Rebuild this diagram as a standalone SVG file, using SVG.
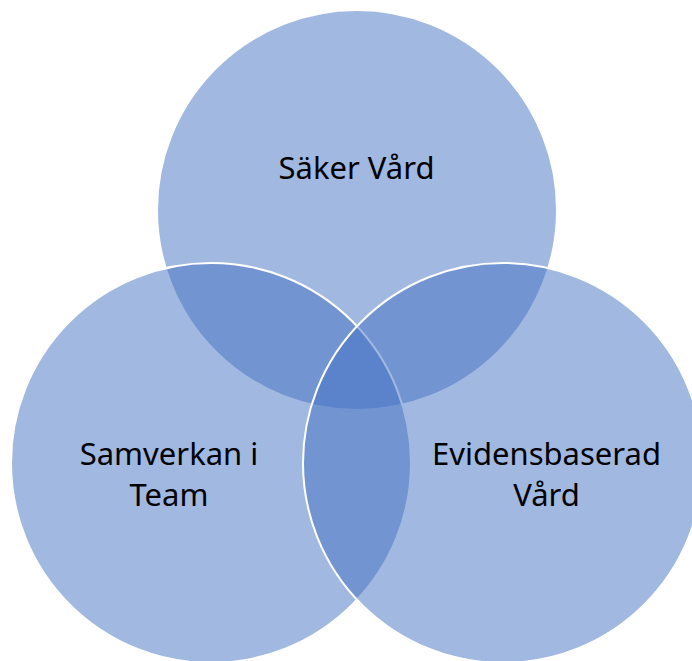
<svg xmlns="http://www.w3.org/2000/svg" width="692" height="661" viewBox="0 0 692 661">
<style>
.c{fill:#4472C4;fill-opacity:0.5;stroke:#FFFFFF;stroke-width:2}
.t{font-family:"Noto Sans","Open Sans",sans-serif;font-size:31px;fill:#000000;text-anchor:middle}
</style>
<rect width="692" height="661" fill="#FFFFFF"/>
<g id="node-saker">
<circle class="c" cx="357" cy="210" r="200"/>
</g>
<g id="node-samverkan">
<circle class="c" cx="211" cy="463" r="200"/>
</g>
<g id="node-evidens">
<circle class="c" cx="503" cy="463" r="200"/>
</g>
<g id="labels">
<text class="t" x="356.5" y="179">Säker Vård</text>
<text class="t" x="169" y="465">Samverkan i</text>
<text class="t" x="169" y="506">Team</text>
<text class="t" x="546.5" y="465">Evidensbaserad</text>
<text class="t" x="546.5" y="506">Vård</text>
</g>
<g id="connectors"></g>
</svg>
